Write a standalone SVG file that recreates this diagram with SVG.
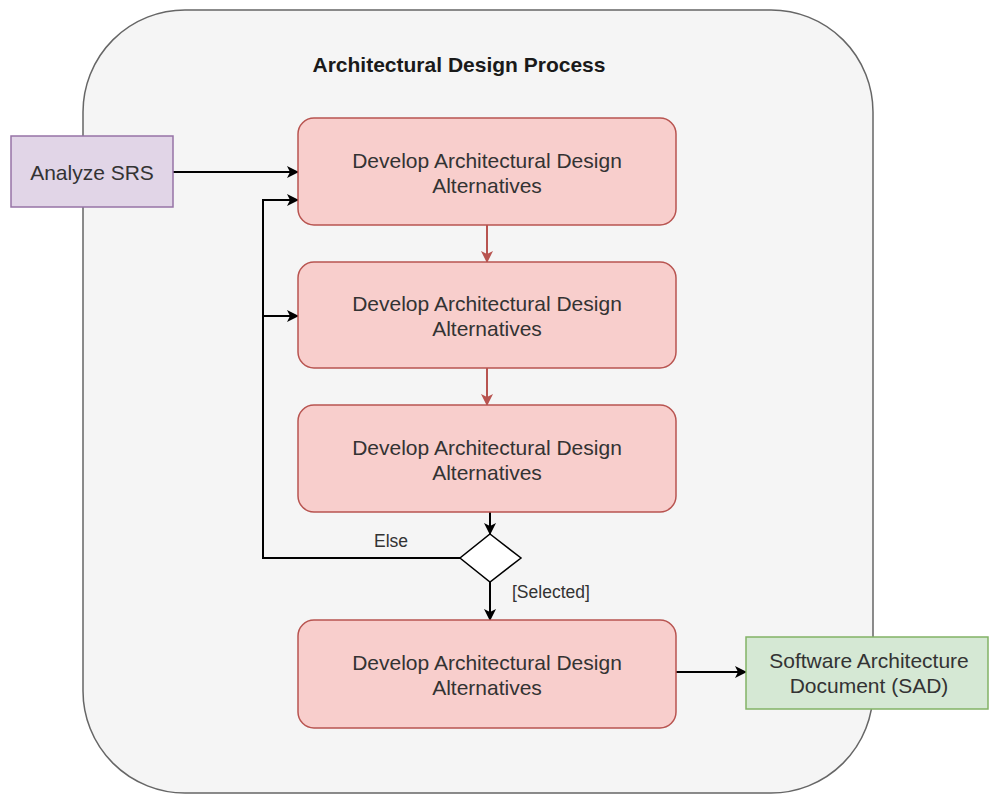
<svg xmlns="http://www.w3.org/2000/svg" width="989" height="795" viewBox="0 0 989 795">
  <style>
    text { font-family: "Liberation Sans", Arial, sans-serif; fill: #333333; }
    .lbl { font-size: 21px; text-anchor: middle; }
    .title { font-size: 21px; font-weight: bold; text-anchor: middle; fill: #1a1a1a; }
    .small { font-size: 17.5px; }
    .step { fill: #f8cecc; stroke: #b85450; stroke-width: 1.5; }
    .edge { fill: none; stroke: #000000; stroke-width: 2; }
    .edge-red { fill: none; stroke: #b85450; stroke-width: 2; }
  </style>
  <defs>
    <marker id="arrow" viewBox="0 0 12 12" refX="11" refY="6" markerWidth="12" markerHeight="12" markerUnits="userSpaceOnUse" orient="auto">
      <path d="M0,0 L12,6 L0,12 L3,6 z" fill="#000000"/>
    </marker>
    <marker id="arrow-red" viewBox="0 0 12 12" refX="11" refY="6" markerWidth="12" markerHeight="12" markerUnits="userSpaceOnUse" orient="auto">
      <path d="M0,0 L12,6 L0,12 L3,6 z" fill="#b85450"/>
    </marker>
  </defs>

  <rect width="989" height="795" fill="#ffffff"/>

  <!-- process container -->
  <g id="container">
    <rect x="83" y="10" width="790" height="783" rx="102" ry="102" fill="#f5f5f5" stroke="#666666" stroke-width="1.5"/>
    <text class="title" x="459" y="72">Architectural Design Process</text>
  </g>

  <!-- connectors -->
  <g id="connectors">
    <path class="edge" d="M173,172 L298,172" marker-end="url(#arrow)"/>
    <path class="edge-red" d="M487,225 L487,262" marker-end="url(#arrow-red)"/>
    <path class="edge-red" d="M487,368 L487,405" marker-end="url(#arrow-red)"/>
    <path class="edge" d="M490,512 L490,534" marker-end="url(#arrow)"/>
    <path class="edge" d="M460,558 L263,558 L263,200 L298,200" marker-end="url(#arrow)"/>
    <path class="edge" d="M263,316 L298,316" marker-end="url(#arrow)"/>
    <path class="edge" d="M490,582 L490,620" marker-end="url(#arrow)"/>
    <path class="edge" d="M676,672 L746,672" marker-end="url(#arrow)"/>
    <text class="small" x="374" y="547">Else</text>
    <text class="small" x="512" y="598">[Selected]</text>
  </g>

  <g id="analyze-srs">
    <rect x="11" y="136" width="162" height="71" fill="#e1d5e7" stroke="#9673a6" stroke-width="1.5"/>
    <text class="lbl" x="92" y="180">Analyze SRS</text>
  </g>

  <g id="develop-1">
    <rect class="step" x="298" y="118" width="378" height="107" rx="16" ry="16"/>
    <text class="lbl" x="487" y="168">Develop Architectural Design</text>
    <text class="lbl" x="487" y="193">Alternatives</text>
  </g>

  <g id="develop-2">
    <rect class="step" x="298" y="262" width="378" height="106" rx="16" ry="16"/>
    <text class="lbl" x="487" y="311">Develop Architectural Design</text>
    <text class="lbl" x="487" y="336">Alternatives</text>
  </g>

  <g id="develop-3">
    <rect class="step" x="298" y="405" width="378" height="107" rx="16" ry="16"/>
    <text class="lbl" x="487" y="455">Develop Architectural Design</text>
    <text class="lbl" x="487" y="480">Alternatives</text>
  </g>

  <g id="decision">
    <path d="M490,534 L521,558 L490,582 L460,558 Z" fill="#ffffff" stroke="#000000" stroke-width="1.5"/>
  </g>

  <g id="develop-4">
    <rect class="step" x="298" y="620" width="378" height="108" rx="16" ry="16"/>
    <text class="lbl" x="487" y="670">Develop Architectural Design</text>
    <text class="lbl" x="487" y="695">Alternatives</text>
  </g>

  <g id="sad">
    <rect x="746" y="637" width="242" height="72" fill="#d5e8d4" stroke="#82b366" stroke-width="1.5"/>
    <text class="lbl" x="869" y="668">Software Architecture</text>
    <text class="lbl" x="869" y="693">Document (SAD)</text>
  </g>
</svg>
